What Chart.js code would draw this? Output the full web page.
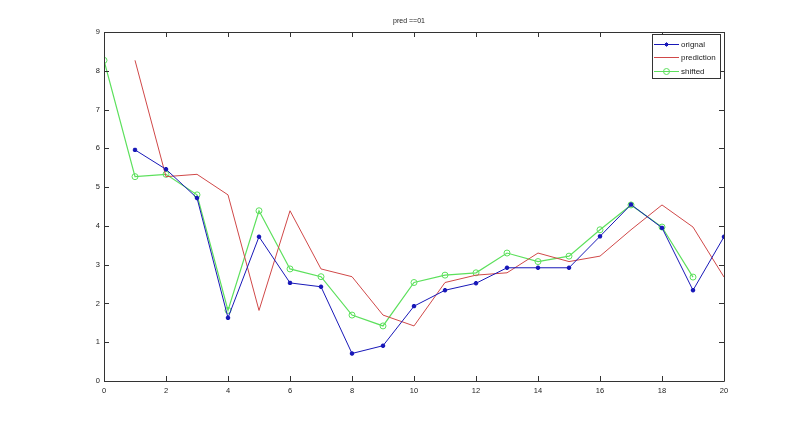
<!DOCTYPE html>
<html><head><meta charset="utf-8">
<script src="https://cdn.jsdelivr.net/npm/chart.js@4/dist/chart.umd.min.js"></script>
<style>html,body{margin:0;padding:0;background:#fff}#wrap{width:800px;height:428px}</style>
</head><body><div id="wrap"><canvas id="c" width="800" height="428"></canvas></div>
<script>
const titleText = 'pred ==01';
const xValues = [0,1,2,3,4,5,6,7,8,9,10,11,12,13,14,15,16,17,18,19,20];
const original = [null,5.96,5.46,4.72,1.63,3.72,2.53,2.43,0.71,0.91,1.93,2.34,2.52,2.92,2.92,2.92,3.73,4.55,3.95,2.34,3.72];
const prediction = [null,8.27,5.27,5.33,4.80,1.82,4.39,2.89,2.69,1.70,1.42,2.54,2.73,2.79,3.30,3.08,3.22,3.90,4.54,3.97,2.68];
const shifted = [8.27,5.27,5.33,4.80,1.82,4.39,2.89,2.69,1.70,1.42,2.54,2.73,2.79,3.30,3.08,3.22,3.90,4.54,3.97,2.68,null];
const seriesNames = ['orignal','prediction','shifted'];
const xTicks = [0,2,4,6,8,10,12,14,16,18,20];
const yTicks = [0,1,2,3,4,5,6,7,8,9];

const FONT = 'Liberation Sans, Arial, sans-serif';
const colors = ['#1818b8','#d04848','#5ce05c'];
const pts = arr => xValues.map((x,i)=>({x:x,y:arr[i]}));

const boxTicks = {
  id:'boxTicks',
  afterDraw(chart){
    const ctx = chart.ctx, a = chart.chartArea, xs = chart.scales.x, ys = chart.scales.y;
    ctx.save();
    ctx.strokeStyle = '#333'; ctx.lineWidth = 1;
    ctx.beginPath();
    ctx.rect(Math.round(a.left)+0.5, Math.round(a.top)+0.5, Math.round(a.right-a.left), Math.round(a.bottom-a.top));
    const L = 5;
    xTicks.forEach(v=>{ const p = Math.round(xs.getPixelForValue(v))+0.5;
      ctx.moveTo(p,a.bottom); ctx.lineTo(p,a.bottom-L);
      ctx.moveTo(p,a.top); ctx.lineTo(p,a.top+L); });
    yTicks.forEach(v=>{ const p = Math.round(ys.getPixelForValue(v))+0.5;
      ctx.moveTo(a.left,p); ctx.lineTo(a.left+L,p);
      ctx.moveTo(a.right,p); ctx.lineTo(a.right-L,p); });
    ctx.stroke();
    // title
    ctx.fillStyle = '#222'; ctx.font = '7px '+FONT; ctx.textAlign='center'; ctx.textBaseline='middle';
    ctx.fillText(titleText, 409, 21);
    // legend
    const bx=652, by=34, bw=68, bh=44;
    ctx.fillStyle='#fff'; ctx.fillRect(bx,by,bw,bh);
    ctx.strokeStyle='#333'; ctx.strokeRect(bx+0.5,by+0.5,bw,bh);
    const rows=[44,57,71];
    chart.data.datasets.forEach((ds,i)=>{
      const y=rows[i];
      ctx.strokeStyle=ds.borderColor; ctx.lineWidth=1;
      ctx.beginPath(); ctx.moveTo(654,y+0.5); ctx.lineTo(679,y+0.5); ctx.stroke();
      if(ds.pointRadius>0){
        ctx.fillStyle=ds.backgroundColor;
        Chart.helpers.drawPoint(ctx,{pointStyle:ds.pointStyle,radius:ds.pointRadius,borderWidth:1,rotation:0},666.5,y+0.5);
      }
      ctx.fillStyle='#222'; ctx.textAlign='left'; ctx.font='8px '+FONT;
      ctx.fillText(seriesNames[i],681,y+1);
    });
    ctx.restore();
  }
};

new Chart(document.getElementById('c'),{
  type:'line',
  data:{datasets:[
    {label:seriesNames[0],data:pts(original),borderColor:colors[0],backgroundColor:colors[0],borderWidth:1,pointStyle:'star',pointRadius:2.2,pointBorderWidth:1.5,tension:0},
    {label:seriesNames[1],data:pts(prediction),borderColor:colors[1],backgroundColor:colors[1],borderWidth:1,pointRadius:0,tension:0},
    {label:seriesNames[2],data:pts(shifted),borderColor:colors[2],backgroundColor:'rgba(0,0,0,0)',borderWidth:1.2,pointStyle:'circle',pointRadius:3,pointBorderWidth:1,tension:0}
  ]},
  options:{
    responsive:false,animation:false,
    layout:{padding:{top:32,right:76,left:0,bottom:0}},
    plugins:{legend:{display:false},title:{display:false},tooltip:{enabled:false}},
    scales:{
      x:{type:'linear',min:0,max:20,
        afterBuildTicks:s=>{s.ticks=xTicks.map(v=>({value:v}));},
        afterFit:s=>{s.height=47;},
        grid:{display:false,drawTicks:false,tickLength:0},border:{display:false},
        ticks:{color:'#222',font:{size:7.5,family:FONT},padding:5,maxRotation:0,autoSkip:false}},
      y:{type:'linear',min:0,max:9,
        afterBuildTicks:s=>{s.ticks=yTicks.map(v=>({value:v}));},
        afterFit:s=>{s.width=104;},
        grid:{display:false,drawTicks:false,tickLength:0},border:{display:false},
        ticks:{color:'#222',font:{size:7.5,family:FONT},padding:4,autoSkip:false}}
    }
  },
  plugins:[boxTicks]
});
</script></body></html>
